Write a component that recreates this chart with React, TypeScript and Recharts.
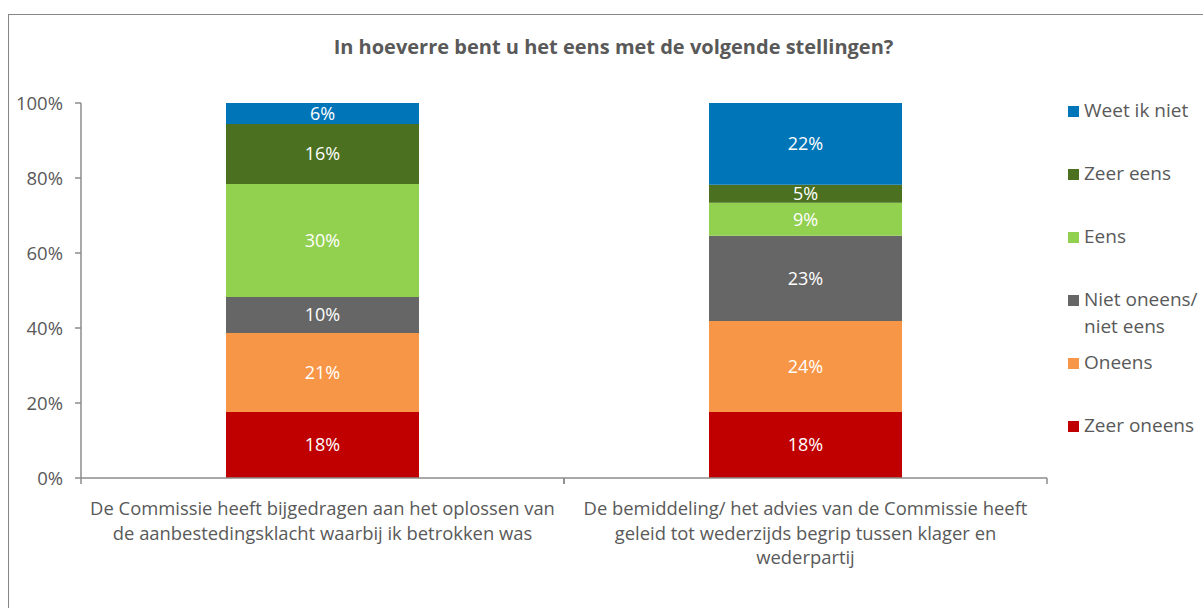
import React from 'react';
import { BarChart, Bar, XAxis, YAxis, LabelList, Legend } from 'recharts';

const categories = [
  'De Commissie heeft bijgedragen aan het oplossen van de aanbestedingsklacht waarbij ik betrokken was',
  'De bemiddeling/ het advies van de Commissie heeft geleid tot wederzijds begrip tussen klager en wederpartij',
];
const categoryLines = [
  ['De Commissie heeft bijgedragen aan het oplossen van', 'de aanbestedingsklacht waarbij ik betrokken was'],
  ['De bemiddeling/ het advies van de Commissie heeft', 'geleid tot wederzijds begrip tussen klager en', 'wederpartij'],
];

const zeerOneens = [17.6, 17.6];
const oneens = [21.1, 24.3];
const nietOneens = [9.6, 22.7];
const eens = [30.1, 8.8];
const zeerEens = [16.0, 4.8];
const weetIkNiet = [5.6, 21.8];

const yTicks = [0, 20, 40, 60, 80, 100];

const series = [
  { key: 'zeerOneens', name: 'Zeer oneens', color: '#C00000', values: zeerOneens },
  { key: 'oneens', name: 'Oneens', color: '#F79646', values: oneens },
  { key: 'nietOneens', name: 'Niet oneens/ niet eens', color: '#666666', values: nietOneens },
  { key: 'eens', name: 'Eens', color: '#92D050', values: eens },
  { key: 'zeerEens', name: 'Zeer eens', color: '#4A7020', values: zeerEens },
  { key: 'weetIkNiet', name: 'Weet ik niet', color: '#0075B8', values: weetIkNiet },
];

const legendItems = [
  { name: 'Weet ik niet', color: '#0075B8' },
  { name: 'Zeer eens', color: '#4A7020' },
  { name: 'Eens', color: '#92D050' },
  { name: 'Niet oneens/\nniet eens', color: '#666666' },
  { name: 'Oneens', color: '#F79646' },
  { name: 'Zeer oneens', color: '#C00000' },
];

const data = categories.map((c, i) => {
  const row: Record<string, any> = { name: c, idx: i };
  series.forEach(s => { row[s.key] = s.values[i]; });
  return row;
});

const FONT = '"Open Sans", Lato, sans-serif';
const TEXT = '#595959';
const AXIS = '#8C8C8C';

const CategoryTick = (props: any) => {
  const { x, y, payload, index } = props;
  const half = payload?.offset ?? 241.5;
  const lines = categoryLines[index] || [String(payload.value)];
  return (
    <g>
      <line x1={x - half} y1={y - 8} x2={x - half} y2={y - 2} stroke={AXIS} strokeWidth={1.5} />
      <line x1={x + half} y1={y - 8} x2={x + half} y2={y - 2} stroke={AXIS} strokeWidth={1.5} />
      {lines.map((l, i) => (
        <text key={i} x={x} y={y + 29 + i * 24.5} textAnchor="middle" fill={TEXT}
          fontSize={18.4} fontFamily={FONT}>{l}</text>
      ))}
    </g>
  );
};

const LegendContent = () => (
  <div style={{ fontFamily: FONT, fontSize: 19, color: TEXT }}>
    {legendItems.map((it, i) => {
      const parts = it.name.split('\n');
      return (
        <div key={i} style={{ position: 'absolute', left: 0, top: i * 63, lineHeight: '27px', whiteSpace: 'nowrap' }}>
          <span style={{ display: 'inline-block', width: 11, height: 11, background: it.color, marginRight: 5 }} />
          {parts[0]}
          {parts[1] && <div style={{ marginLeft: 16 }}>{parts[1]}</div>}
        </div>
      );
    })}
  </div>
);

export default function App() {
  return (
    <div style={{ position: 'absolute', left: 0, top: 0, width: 1203, height: 608, background: '#fff', overflow: 'hidden' }}>
      <div style={{ position: 'absolute', left: 8, top: 14, width: 1220, height: 620, border: '1.5px solid #868686' }} />
      <div style={{ position: 'absolute', left: 0, top: 33, width: 1227, textAlign: 'center', fontFamily: FONT, fontWeight: 'bold', fontSize: 20, color: TEXT }}>
        In hoeverre bent u het eens met de volgende stellingen?
      </div>
      <div style={{ position: 'absolute', left: 0, top: 0 }}>
        <BarChart width={1203} height={608} data={data} margin={{ top: 103, right: 26, bottom: 30, left: 0 }} barSize={193}>
          <YAxis type="number" domain={[0, 100]} ticks={yTicks} width={81} tickFormatter={(v: number) => `${v}%`}
            tick={{ fill: TEXT, fontSize: 18.5, fontFamily: FONT }} tickSize={6} tickMargin={12}
            axisLine={{ stroke: AXIS, strokeWidth: 1.5 }} tickLine={{ stroke: AXIS, strokeWidth: 1.5 }} />
          <XAxis dataKey="name" type="category" height={100} interval={0} tick={<CategoryTick />}
            tickLine={false} axisLine={{ stroke: AXIS, strokeWidth: 1.5 }} />
          <Legend layout="vertical" align="right" verticalAlign="top" content={<LegendContent />}
            wrapperStyle={{ position: 'absolute', left: 1068, top: 97, width: 130, height: 400 }} />
          {series.map(s => (
            <Bar key={s.key} dataKey={s.key} name={s.name} stackId="a" fill={s.color} isAnimationActive={false}>
              <LabelList dataKey={s.key} position="center" fill="#ffffff" fontSize={18} fontFamily={FONT}
                formatter={(v: any) => `${Math.round(Number(v))}%`} />
            </Bar>
          ))}
        </BarChart>
      </div>
    </div>
  );
}
